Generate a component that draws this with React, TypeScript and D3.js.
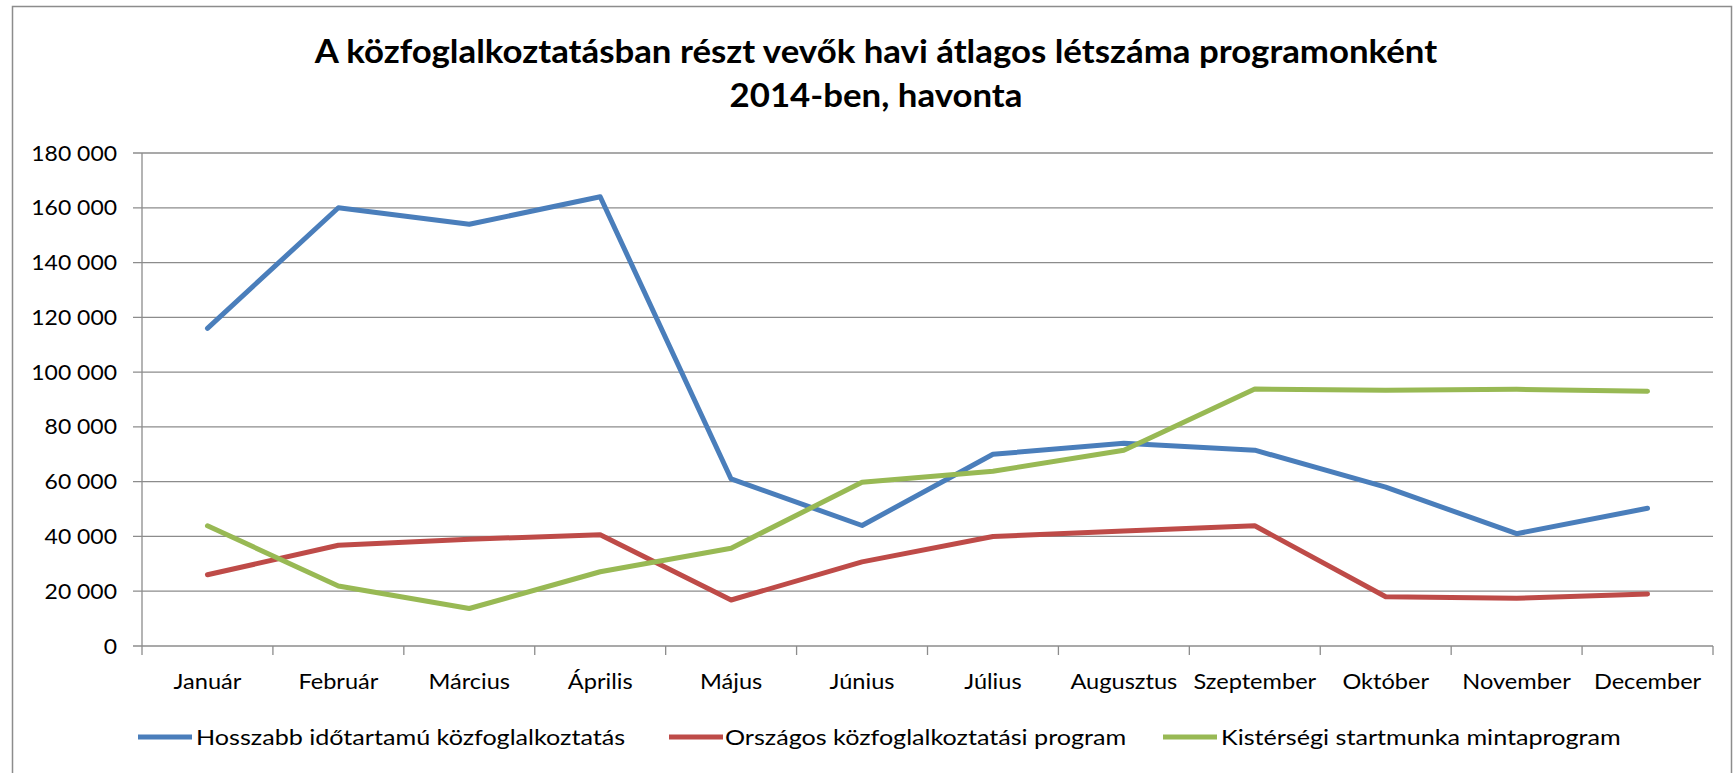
import React from "react";
import * as d3 from "d3";

const months = [
  "Január", "Február", "Március", "Április", "Május", "Június",
  "Július", "Augusztus", "Szeptember", "Október", "November", "December",
];

const hosszabb = [116000, 160000, 154000, 164000, 61000, 44000, 70000, 74000, 71500, 58000, 41000, 50300];
const orszagos = [26000, 36800, 39000, 40600, 16800, 30700, 40000, 42000, 43900, 18000, 17400, 19000];
const kisterseg = [43900, 21900, 13700, 27100, 35700, 59800, 63800, 71500, 93800, 93400, 93700, 93000];

const yTicks = [0, 20000, 40000, 60000, 80000, 100000, 120000, 140000, 160000, 180000];

const seriesNames = [
  "Hosszabb időtartamú közfoglalkoztatás",
  "Országos közfoglalkoztatási program",
  "Kistérségi startmunka mintaprogram",
];
const colors = ["#4a7ebb", "#be4b48", "#98b954"];

const W = 1733;
const H = 773;
const FONT = "Lato, 'Open Sans', sans-serif";
const SX = 1.15; // the source picture is stretched sideways a bit

const fmt = (v: number) => d3.format(",")(v).replace(/,/g, " ");

function Txt({ x, y, sx = SX, anchor = "start", size, weight = 400, children }: any) {
  return (
    <text
      transform={`translate(${x},${y}) scale(${sx},1)`}
      textAnchor={anchor}
      fontSize={size}
      fontWeight={weight}
      fontFamily={FONT}
      fill="#000"
    >
      {children}
    </text>
  );
}

export default function App() {
  const left = 142, right = 1713, top = 153, bottom = 646;

  const x = d3.scaleBand().domain(months).range([left, right]).padding(0);
  const bw = x.bandwidth();
  const cx = (m: string) => (x(m) as number) + bw / 2;
  const y = d3.scaleLinear().domain([0, 180000]).range([bottom, top]);

  const line = d3
    .line<number>()
    .x((_, i) => cx(months[i]))
    .y((d) => y(d));

  const allSeries = [hosszabb, orszagos, kisterseg];

  const legend = [
    { lx: 138, tx: 196 },
    { lx: 669, tx: 725 },
    { lx: 1163, tx: 1221 },
  ];

  return (
    <svg width={W} height={H} style={{ position: "absolute", left: 0, top: 0, background: "#fff" }}>
      <rect x={0} y={0} width={W} height={H} fill="#fff" />
      {/* chart border */}
      <path d={`M12.5,${H} V6.5 H1731.5 V${H}`} fill="none" stroke="#8c8c8c" strokeWidth={1.5} />

      <Txt x={876} y={63} sx={1.055} anchor="middle" size={33} weight={700}>
        A közfoglalkoztatásban részt vevők havi átlagos létszáma programonként
      </Txt>
      <Txt x={876} y={107} sx={1.055} anchor="middle" size={33} weight={700}>
        2014-ben, havonta
      </Txt>

      {/* gridlines and y ticks */}
      {yTicks.map((t) => (
        <g key={t}>
          <line x1={left - 9} x2={right} y1={y(t)} y2={y(t)} stroke="#8c8c8c" strokeWidth={1.3} />
          <Txt x={117} y={y(t) + 7.5} anchor="end" size={20.5} sx={1.12}>
            {fmt(t)}
          </Txt>
        </g>
      ))}

      {/* axes */}
      <line x1={left} x2={left} y1={top} y2={bottom} stroke="#8c8c8c" strokeWidth={1.3} />
      {months.map((m) => (
        <line key={m} x1={x(m)} x2={x(m)} y1={bottom} y2={bottom + 9} stroke="#8c8c8c" strokeWidth={1.3} />
      ))}
      <line x1={right} x2={right} y1={bottom} y2={bottom + 9} stroke="#8c8c8c" strokeWidth={1.3} />
      {months.map((m) => (
        <Txt key={m} x={cx(m)} y={689} anchor="middle" size={20.5}>
          {m}
        </Txt>
      ))}

      {/* series */}
      {allSeries.map((s, i) => (
        <path
          key={i}
          d={line(s) || ""}
          fill="none"
          stroke={colors[i]}
          strokeWidth={5}
          strokeLinejoin="round"
          strokeLinecap="round"
        />
      ))}

      {/* legend */}
      {seriesNames.map((n, i) => (
        <g key={n}>
          <line x1={legend[i].lx} x2={legend[i].lx + 54} y1={737} y2={737} stroke={colors[i]} strokeWidth={5} />
          <Txt x={legend[i].tx} y={745} size={21.5} sx={1.17}>
            {n}
          </Txt>
        </g>
      ))}
    </svg>
  );
}
